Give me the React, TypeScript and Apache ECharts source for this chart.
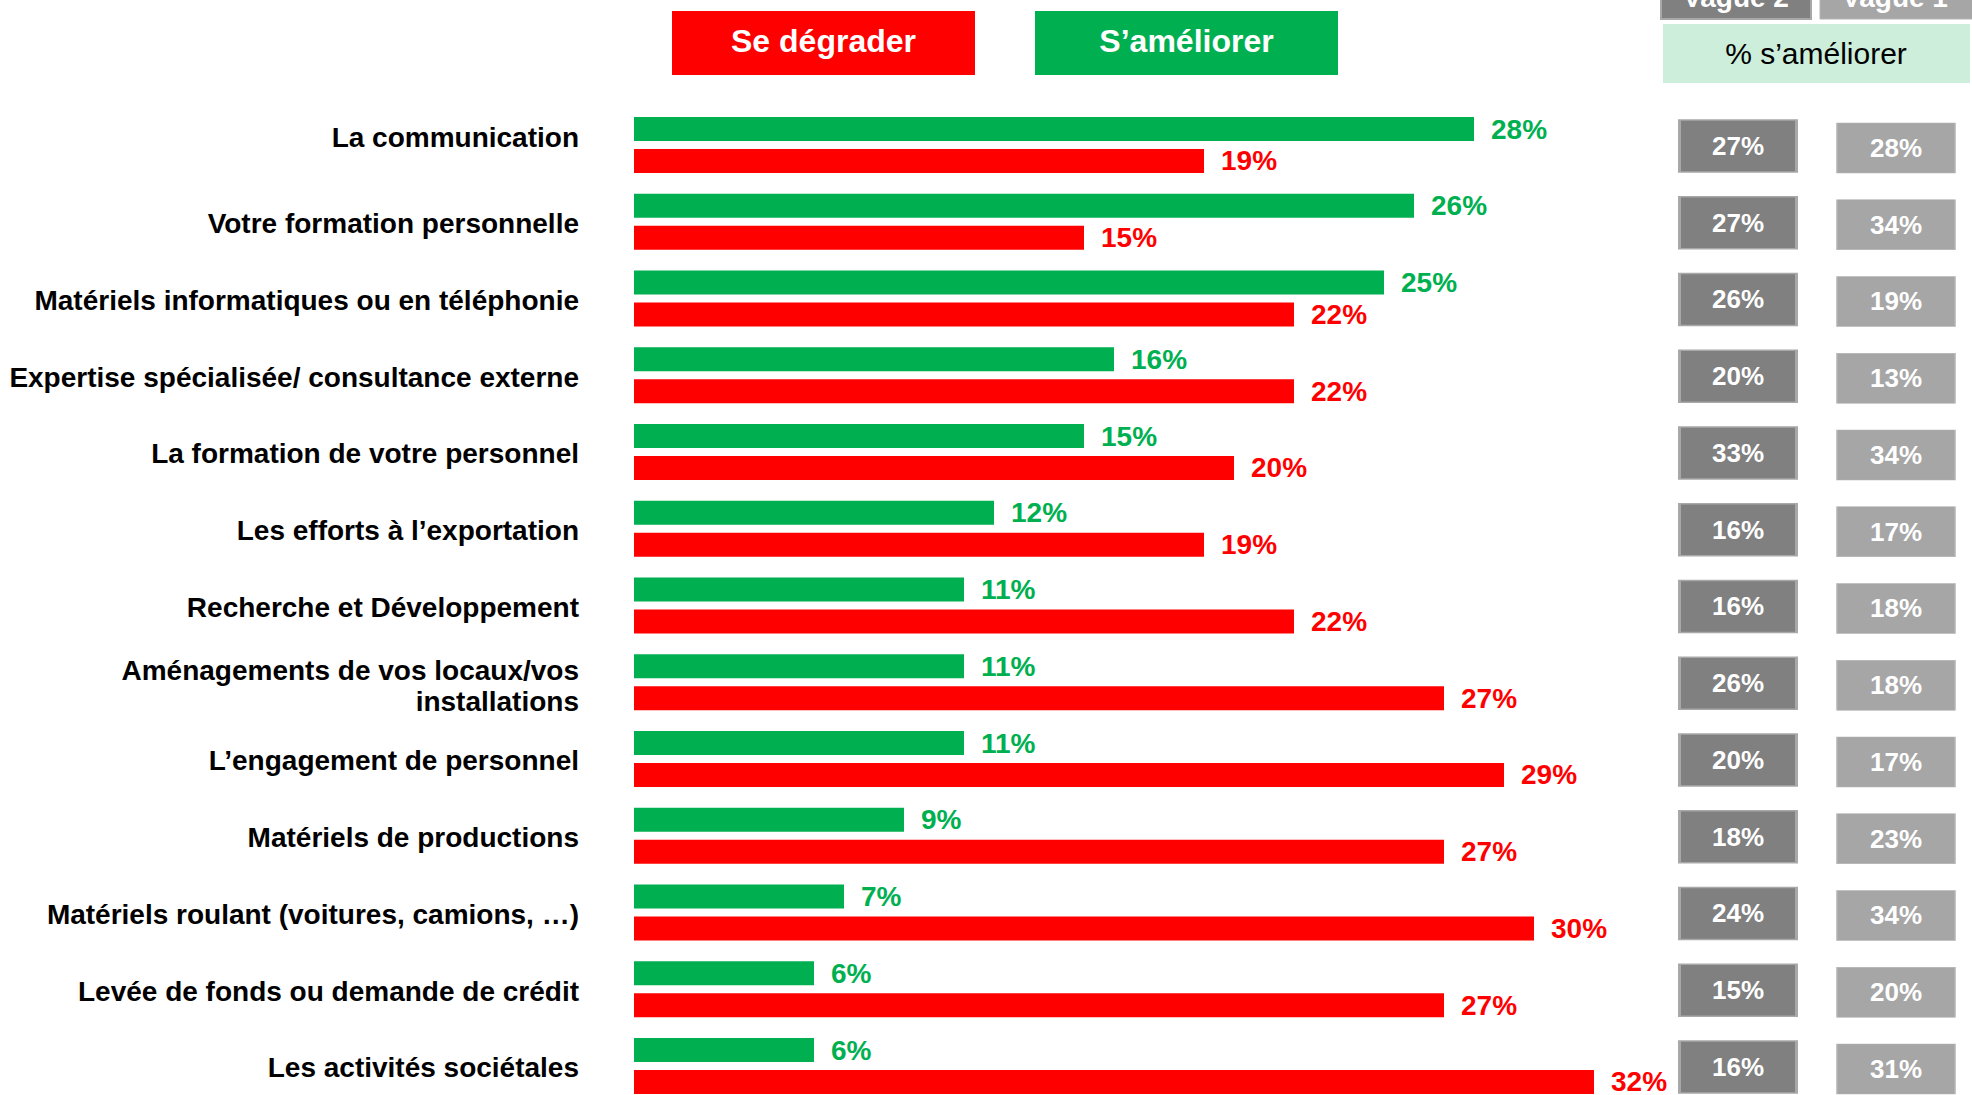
import React, { useEffect, useRef } from "react";
import * as echarts from "echarts";

const categories = [
  "La communication",
  "Votre formation personnelle",
  "Matériels informatiques ou en téléphonie",
  "Expertise spécialisée/ consultance externe",
  "La formation de votre personnel",
  "Les efforts à l’exportation",
  "Recherche et Développement",
  "Aménagements de vos locaux/vos\ninstallations",
  "L’engagement de personnel",
  "Matériels de productions",
  "Matériels roulant (voitures, camions, …)",
  "Levée de fonds ou demande de crédit",
  "Les activités sociétales",
];
const ameliorer = [28, 26, 25, 16, 15, 12, 11, 11, 11, 9, 7, 6, 6];
const degrader = [19, 15, 22, 22, 20, 19, 22, 27, 29, 27, 30, 27, 32];
const vague2 = [27, 27, 26, 20, 33, 16, 16, 26, 20, 18, 24, 15, 16];
const vague1 = [28, 34, 19, 13, 34, 17, 18, 18, 17, 23, 34, 20, 31];
const vagues = ["Vague 2", "Vague 1"];

const FONT = "'Liberation Sans', Arial, sans-serif";
const GREEN = "#00B050";
const RED = "#FF0000";
const DARK = "#808080";
const LIGHT = "#A6A6A6";

export default function App() {
  const ref = useRef<HTMLDivElement>(null);
  useEffect(() => {
    document.body.style.margin = "0";
    document.body.style.overflow = "hidden";
    document.documentElement.style.overflow = "hidden";
    const chart = echarts.init(ref.current!, undefined, { renderer: "svg" });
    const top = 106.6;
    const height = 997.75;
    const labelBase = {
      fontSize: 28,
      fontWeight: "bold",
      color: "#000",
      fontFamily: FONT,
      lineHeight: 30,
    };
    chart.setOption({
      animation: false,
      textStyle: { fontFamily: FONT },
      grid: [
        { left: 634, top, width: 1200, height },
        { left: 1660, top, width: 317, height },
      ],
      xAxis: [
        { type: "value", min: 0, max: 40, show: false, gridIndex: 0 },
        { type: "category", data: vagues, show: false, gridIndex: 1 },
      ],
      yAxis: [
        {
          type: "category",
          data: categories,
          inverse: true,
          gridIndex: 0,
          axisLine: { show: false },
          axisTick: { show: false },
          axisLabel: {
            interval: 0,
            margin: 55,
            align: "right",
            ...labelBase,
            formatter: (v: string, i: number) =>
              i === 0 ? `{up|${v}}` : i === 7 ? `{two|${v}}` : `{n|${v}}`,
            rich: {
              n: { ...labelBase, padding: [4, 0, 0, 0] },
              up: { ...labelBase, padding: [0, 0, 14, 0] },
              two: { ...labelBase, lineHeight: 31, padding: [8, 0, 0, 0] },
            },
          },
        },
        {
          type: "category",
          data: categories,
          inverse: true,
          gridIndex: 1,
          show: false,
        },
      ],
      series: [
        {
          name: "S’améliorer",
          type: "bar",
          xAxisIndex: 0,
          yAxisIndex: 0,
          data: ameliorer,
          barWidth: 24,
          barGap: "33%",
          itemStyle: { color: GREEN },
          label: {
            show: true,
            position: "right",
            distance: 17,
            formatter: "{c}%",
            color: GREEN,
            fontSize: 28,
            fontWeight: "bold",
            fontFamily: FONT,
          },
        },
        {
          name: "Se dégrader",
          type: "bar",
          xAxisIndex: 0,
          yAxisIndex: 0,
          data: degrader,
          barWidth: 24,
          barGap: "33%",
          itemStyle: { color: RED },
          label: {
            show: true,
            position: "right",
            distance: 17,
            formatter: "{c}%",
            color: RED,
            fontSize: 28,
            fontWeight: "bold",
            fontFamily: FONT,
          },
        },
        {
          type: "scatter",
          xAxisIndex: 1,
          yAxisIndex: 1,
          symbol: "rect",
          symbolSize: [117, 52],
          symbolOffset: [0, 1],
          data: vague2.map((v, i) => [0, i, v]),
          itemStyle: { color: DARK, borderColor: "#A8A8A8", borderWidth: 2, opacity: 1 },
          label: {
            show: true,
            position: "inside",
            formatter: (p: any) => p.value[2] + "%",
            color: "#fff",
            fontSize: 26,
            fontWeight: "bold",
            fontFamily: FONT,
          },
        },
        {
          type: "scatter",
          xAxisIndex: 1,
          yAxisIndex: 1,
          symbol: "rect",
          symbolSize: [118, 50],
          symbolOffset: [2, 3],
          data: vague1.map((v, i) => [1, i, v]),
          itemStyle: { color: LIGHT, borderColor: "#B4B4B4", borderWidth: 1, opacity: 1 },
          label: {
            show: true,
            position: "inside",
            formatter: (p: any) => p.value[2] + "%",
            color: "#fff",
            fontSize: 26,
            fontWeight: "bold",
            fontFamily: FONT,
          },
        },
      ],
      graphic: [
        { type: "rect", shape: { x: 672, y: 11, width: 303, height: 64 }, style: { fill: RED } },
        {
          type: "text",
          x: 823.5,
          y: 41,
          style: {
            text: "Se dégrader",
            fill: "#fff",
            font: `bold 32px ${FONT}`,
            align: "center",
            verticalAlign: "middle",
          },
        },
        { type: "rect", shape: { x: 1035, y: 11, width: 303, height: 64 }, style: { fill: GREEN } },
        {
          type: "text",
          x: 1186.5,
          y: 41,
          style: {
            text: "S’améliorer",
            fill: "#fff",
            font: `bold 32px ${FONT}`,
            align: "center",
            verticalAlign: "middle",
          },
        },
        {
          type: "rect",
          shape: { x: 1661, y: -20, width: 150, height: 39 },
          style: { fill: DARK, stroke: "#A8A8A8", lineWidth: 2 },
        },
        {
          type: "text",
          x: 1736,
          y: 11,
          style: {
            text: "Vague 2",
            fill: "#fff",
            font: `bold 28px ${FONT}`,
            align: "center",
            verticalAlign: "bottom",
          },
        },
        {
          type: "rect",
          shape: { x: 1820, y: -20, width: 160, height: 39 },
          style: { fill: LIGHT, stroke: "#B4B4B4", lineWidth: 1 },
        },
        {
          type: "text",
          x: 1895,
          y: 11,
          style: {
            text: "Vague 1",
            fill: "#fff",
            font: `bold 28px ${FONT}`,
            align: "center",
            verticalAlign: "bottom",
          },
        },
        { type: "rect", shape: { x: 1663, y: 24, width: 307, height: 59 }, style: { fill: "#CCEEDB" } },
        {
          type: "text",
          x: 1816,
          y: 53,
          style: {
            text: "% s’améliorer",
            fill: "#000",
            font: `30px ${FONT}`,
            align: "center",
            verticalAlign: "middle",
          },
        },
      ],
    });
    return () => chart.dispose();
  }, []);
  return <div ref={ref} style={{ width: 1972, height: 1110 }} />;
}
